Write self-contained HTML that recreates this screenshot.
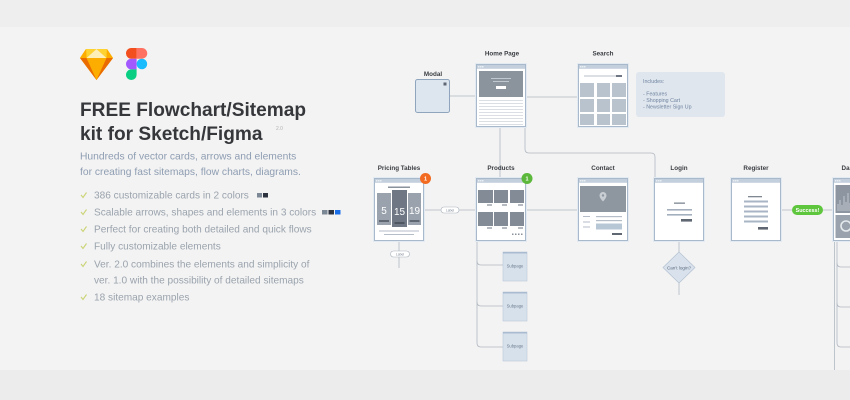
<!DOCTYPE html>
<html><head><meta charset="utf-8"><style>
html,body{margin:0;padding:0;background:#f3f3f3;}
body{width:850px;height:400px;overflow:hidden;position:relative;font-family:"Liberation Sans",Arial,sans-serif;}
svg{position:absolute;left:0;top:0;}
</style></head><body>
<svg width="850" height="400" viewBox="0 0 850 400" xmlns="http://www.w3.org/2000/svg" font-family="Liberation Sans, Arial, sans-serif">
<defs>
<g id="card">
 <rect x="-0.5" y="-0.5" width="51" height="64" fill="none" stroke="#e4eaf1" stroke-width="1"/>
 <rect x="0.5" y="0.5" width="49" height="62" fill="#fff" stroke="#a9b9cc" stroke-width="1"/>
 <rect x="1" y="1" width="48" height="3.8" fill="#c3cfdc"/>
 <rect x="2.2" y="2.2" width="1.2" height="1.2" fill="#fff"/>
 <rect x="4.2" y="2.2" width="1.2" height="1.2" fill="#fff"/>
 <rect x="6.2" y="2.2" width="1.2" height="1.2" fill="#fff"/>
</g>
<g id="sub">
 <rect x="0" y="0" width="24" height="29" fill="#d7e1eb" stroke="#b9c8d8" stroke-width="0.6"/>
 <rect x="0" y="0" width="24" height="1.5" fill="#a8bbd0"/>
 <text x="12" y="15.5" font-size="4.2" fill="#6d7d90" text-anchor="middle">Subpage</text>
</g>
</defs>

<!-- background bands -->
<rect x="0" y="0" width="850" height="27" fill="#eeeeee"/>
<rect x="0" y="27" width="850" height="343" fill="#f3f3f3"/>
<rect x="0" y="370" width="850" height="30" fill="#ececec"/>

<!-- Sketch logo -->
<polygon points="86,49 107,49 113,58 96.5,80 80,58" fill="#fdb300"/>
<polygon points="80,58 113,58 96.5,80" fill="#ea6c00"/>
<polygon points="86.5,58 106.5,58 96.5,80" fill="#fdad00"/>
<polygon points="86,49 96.5,49 86.5,58" fill="#fdd231"/>
<polygon points="107,49 96.5,49 106.5,58" fill="#fdd231"/>
<polygon points="96.5,49 86.5,58 106.5,58" fill="#feeeb7"/>
<polygon points="86,49 80,58 86.5,58" fill="#fdad00"/>
<polygon points="107,49 113,58 106.5,58" fill="#fdad00"/>

<!-- Figma logo -->
<path d="M126,53.3 a5.3,5.3 0 0 1 5.3,-5.3 h5.3 v10.7 h-5.3 a5.3,5.3 0 0 1 -5.3,-5.4z" fill="#f24e1e"/>
<path d="M136.6,48 h5.3 a5.3,5.3 0 0 1 0,10.7 h-5.3z" fill="#ff7262"/>
<path d="M126,64 a5.3,5.3 0 0 1 5.3,-5.3 h5.3 v10.7 h-5.3 a5.3,5.3 0 0 1 -5.3,-5.4z" fill="#a259ff"/>
<circle cx="141.9" cy="64" r="5.3" fill="#1abcfe"/>
<path d="M126,74.7 a5.3,5.3 0 0 1 5.3,-5.3 h5.3 v5.3 a5.3,5.3 0 0 1 -10.6,0z" fill="#0acf83"/>

<!-- Title -->
<text x="80" y="116" font-size="19.1" font-weight="bold" fill="#35373b">FREE Flowchart/Sitemap</text>
<text x="80" y="140" font-size="19.1" font-weight="bold" fill="#35373b">kit for Sketch/Figma</text>
<text x="276" y="130" font-size="5" fill="#b4b4b4">2.0</text>

<text x="80" y="159.5" font-size="10.3" fill="#8e9db2">Hundreds of vector cards, arrows and elements</text>
<text x="80" y="175" font-size="10.3" fill="#8e9db2">for creating fast sitemaps, flow charts, diagrams.</text>

<g font-size="10.1" fill="#9aa3ad">
<text x="94" y="198.5">386 customizable cards in 2 colors</text>
<text x="94" y="215.5">Scalable arrows, shapes and elements in 3 colors</text>
<text x="94" y="232.5">Perfect for creating both detailed and quick flows</text>
<text x="94" y="249.5">Fully customizable elements</text>
<text x="94" y="267.5">Ver. 2.0 combines the elements and simplicity of</text>
<text x="94" y="283.5">ver. 1.0 with the possibility of detailed sitemaps</text>
<text x="94" y="300.5">18 sitemap examples</text>
</g>
<g fill="none" stroke="#cbd474" stroke-width="1.1">
<polyline points="81,195 83,197.5 86.5,192.5"/>
<polyline points="81,212 83,214.5 86.5,209.5"/>
<polyline points="81,229 83,231.5 86.5,226.5"/>
<polyline points="81,246 83,248.5 86.5,243.5"/>
<polyline points="81,264 83,266.5 86.5,261.5"/>
<polyline points="81,297 83,299.5 86.5,294.5"/>
</g>
<rect x="257" y="193" width="5" height="4.5" fill="#7d8896"/>
<rect x="263" y="193" width="5" height="4.5" fill="#2d3440"/>
<rect x="322" y="210" width="5.5" height="4.5" fill="#7d8896"/>
<rect x="328.5" y="210" width="5.5" height="4.5" fill="#2d3440"/>
<rect x="335" y="210" width="5.5" height="4.5" fill="#1a6ee8"/>

<!-- Connectors -->
<g fill="none" stroke="#b0b8c2" stroke-width="0.8">
<path d="M450,96 H476"/>
<path d="M526,97 H578"/>
<path d="M500,127 V178"/>
<path d="M525,127 V149 Q525,153 529,153 H651 Q655,153 655,157 V178"/>
<path d="M424,210 H441 M459,210 H476"/>
<path d="M526,210 H578"/>
<path d="M399,241 V251 M399,257 V268"/>
<path d="M679,241 V252 M679,283 V295"/>
<path d="M781,210 H792 M823,210 H833"/>
<path d="M477,241 V343 Q477,347 481,347 H503"/>
<path d="M477,261 Q477,265 481,265 H503"/>
<path d="M477,302 Q477,306 481,306 H503"/>
<path d="M834.5,241 V370"/>
<path d="M837,263 Q837,267 841,267 H850"/>
<path d="M837,303 Q837,307 841,307 H850"/>
<path d="M837,343 Q837,347 841,347 H850"/>
<path d="M837,241 V343"/>
</g>

<!-- Labels -->
<g font-size="6.3" font-weight="bold" fill="#3a3d42" text-anchor="middle">
<text x="502" y="55.5">Home Page</text>
<text x="603" y="55.5">Search</text>
<text x="433" y="76">Modal</text>
<text x="399" y="170">Pricing Tables</text>
<text x="501" y="170">Products</text>
<text x="603" y="170">Contact</text>
<text x="679" y="170">Login</text>
<text x="756" y="170">Register</text>
<text x="858" y="170">Dashboard</text>
</g>

<!-- Modal -->
<rect x="415.5" y="79.5" width="34" height="33" rx="2" fill="#dde5ee" stroke="#8ea5bd" stroke-width="1"/>
<rect x="443.5" y="82.5" width="3" height="3" fill="#5d6773"/>

<!-- Home page -->
<g transform="translate(476,64)">
<use href="#card"/>
<rect x="3" y="7" width="44" height="26" fill="#8b939d"/>
<rect x="15" y="14" width="20" height="1" fill="#c2c8cf"/>
<rect x="17" y="17" width="16" height="1" fill="#c2c8cf"/>
<rect x="20" y="22" width="10" height="3" fill="#fff"/>
<g stroke="#cfd5dc" stroke-width="0.7">
<path d="M3,36.5 H47 M3,39.5 H47 M3,42.5 H47 M3,45.5 H47 M3,48.5 H47 M3,51.5 H47 M3,54.5 H47 M3,57.5 H47 M3,60.5 H47"/>
</g>
</g>

<!-- Search -->
<g transform="translate(578,64)">
<use href="#card"/>
<rect x="6" y="11.5" width="32" height="1" fill="#b8c0c9"/>
<rect x="38" y="11" width="6" height="2" fill="#6e7783"/>
<g fill="#b8c3ce">
<rect x="2" y="19" width="14" height="14"/><rect x="19" y="19" width="13" height="14"/><rect x="34" y="19" width="14" height="14"/>
<rect x="2" y="35" width="14" height="13"/><rect x="19" y="35" width="13" height="13"/><rect x="34" y="35" width="14" height="13"/>
<rect x="2" y="50" width="14" height="11"/><rect x="19" y="50" width="13" height="11"/><rect x="34" y="50" width="14" height="11"/>
</g>
</g>

<!-- Includes note -->
<rect x="636" y="72" width="89" height="45" rx="3" fill="#dfe6ee"/>
<g font-size="5.3" fill="#7084a0">
<text x="643" y="83">Includes:</text>
<text x="643" y="95.3">- Features</text>
<text x="643" y="102">- Shopping Cart</text>
<text x="643" y="108.7">- Newsletter Sign Up</text>
</g>

<!-- Pricing tables -->
<g transform="translate(374,178)">
<use href="#card"/>
<rect x="14" y="8.5" width="22" height="1.5" fill="#8a929c"/>
<rect x="3" y="15" width="14" height="32" fill="#9aa3ad"/>
<rect x="18" y="12" width="15" height="37" fill="#6e7783"/>
<rect x="34" y="15" width="13" height="32" fill="#9aa3ad"/>
<g fill="#fff" font-size="10" text-anchor="middle">
<text x="10" y="36">5</text><text x="25.5" y="37">15</text><text x="40.5" y="36">19</text>
</g>
<rect x="5" y="42" width="10" height="2" fill="#5e6772"/>
<rect x="20.5" y="44" width="10" height="2" fill="#4e5661"/>
<rect x="35.5" y="42" width="10" height="2" fill="#5e6772"/>
<rect x="5" y="52.5" width="40" height="1" fill="#b5bec8"/>
<rect x="10" y="56" width="30" height="1" fill="#b5bec8"/>
</g>
<circle cx="425.5" cy="178.5" r="5.5" fill="#f26b21"/>
<text x="425.5" y="180.5" font-size="5.5" font-weight="bold" fill="#fff" text-anchor="middle">1</text>

<!-- Products -->
<g transform="translate(476,178)">
<use href="#card"/>
<g fill="#828b96">
<rect x="2" y="12" width="15" height="13"/><rect x="18" y="12" width="14" height="13"/><rect x="34" y="12" width="14" height="13"/>
<rect x="2" y="34" width="15" height="14"/><rect x="18" y="34" width="14" height="14"/><rect x="34" y="34" width="14" height="14"/>
</g>
<g fill="#6e7783">
<rect x="11" y="26.5" width="5" height="1"/><rect x="26" y="26.5" width="5" height="1"/><rect x="42" y="26.5" width="5" height="1"/>
<rect x="11" y="49.5" width="5" height="1"/><rect x="26" y="49.5" width="5" height="1"/><rect x="42" y="49.5" width="5" height="1"/>
</g>
<g fill="#8a929c">
<rect x="36" y="55.5" width="1.5" height="1.5"/><rect x="39" y="55.5" width="1.5" height="1.5"/><rect x="42" y="55.5" width="1.5" height="1.5"/><rect x="45" y="55.5" width="1.5" height="1.5"/>
</g>
</g>
<circle cx="527" cy="178.5" r="5.5" fill="#5cb83a"/>
<text x="527" y="180.5" font-size="5.5" font-weight="bold" fill="#fff" text-anchor="middle">1</text>

<!-- pills -->
<rect x="441" y="207" width="18" height="6" rx="3" fill="#fff" stroke="#aab3bd" stroke-width="0.6"/>
<text x="450" y="211.3" font-size="3.4" fill="#7d8896" text-anchor="middle">Label</text>
<rect x="390.5" y="251" width="19" height="6" rx="3" fill="#fff" stroke="#aab3bd" stroke-width="0.6"/>
<text x="400" y="255.3" font-size="3.4" fill="#7d8896" text-anchor="middle">Label</text>

<!-- Contact -->
<g transform="translate(578,178)">
<use href="#card"/>
<rect x="2" y="8" width="46" height="26" fill="#8e969f"/>
<path d="M25,14 a3.5,3.5 0 0 1 3.5,3.5 c0,2.5 -3.5,6 -3.5,6 c0,0 -3.5,-3.5 -3.5,-6 a3.5,3.5 0 0 1 3.5,-3.5z" fill="#c9ced4"/>
<circle cx="25" cy="17.5" r="1.2" fill="#8e969f"/>
<g fill="#b5bec8">
<rect x="5" y="38" width="7" height="1"/><rect x="5" y="43.5" width="7" height="1"/><rect x="5" y="48.5" width="7" height="1"/>
<rect x="18" y="38" width="26" height="1.2"/><rect x="18" y="42" width="26" height="1.2"/>
</g>
<rect x="18" y="45.5" width="26" height="6" fill="#b8c7d6"/>
<rect x="34" y="55" width="10" height="2" fill="#5e6772"/>
</g>

<!-- Login -->
<g transform="translate(654,178)">
<use href="#card"/>
<rect x="20" y="24.5" width="11" height="1.3" fill="#7e8792"/>
<rect x="13" y="31" width="25" height="1.6" fill="#a3afbd"/>
<rect x="13" y="36" width="25" height="1.6" fill="#a3afbd"/>
<rect x="27" y="41" width="11" height="2.6" fill="#5e6772"/>
</g>

<!-- Diamond -->
<polygon points="679,252 695,267.5 679,283 663,267.5" fill="#d9e2ec" stroke="#b4c2d2" stroke-width="0.7"/>
<text x="679" y="269.5" font-size="4.6" fill="#5b6b80" text-anchor="middle">Can't login?</text>

<!-- Register -->
<g transform="translate(731,178)">
<use href="#card"/>
<rect x="17" y="18" width="14" height="1.3" fill="#7e8792"/>
<g fill="#a9b5c4">
<rect x="13" y="22.5" width="24" height="2"/><rect x="13" y="27.5" width="24" height="2"/><rect x="13" y="32.5" width="24" height="2"/><rect x="13" y="37.5" width="24" height="2"/><rect x="13" y="42.5" width="24" height="2"/>
</g>
<rect x="27" y="49" width="10" height="2.6" fill="#5e6772"/>
</g>

<!-- Success pill -->
<rect x="792" y="205" width="31" height="10" rx="5" fill="#5ec63c"/>
<text x="807.5" y="212" font-size="5.4" font-weight="bold" fill="#fff" text-anchor="middle">Success!</text>

<!-- Dashboard -->
<g transform="translate(833,178)">
<use href="#card"/>
<rect x="2.5" y="7" width="46" height="28" fill="#8d95a0"/>
<g stroke="#d0d5db" stroke-width="0.8">
<path d="M5,33 V26 M7,33 V22 M9,33 V27 M11,33 V18 M13,33 V24 M15,33 V15 M17,33 V25"/>
</g>
<rect x="2.5" y="37" width="46" height="23" fill="#9aa3ad"/>
<circle cx="13" cy="48" r="5" fill="none" stroke="#e6e9ec" stroke-width="1.6"/>
</g>

<!-- Subpages -->
<use href="#sub" x="503" y="252"/>
<use href="#sub" x="503" y="292"/>
<use href="#sub" x="503" y="332"/>
</svg>
</body></html>
